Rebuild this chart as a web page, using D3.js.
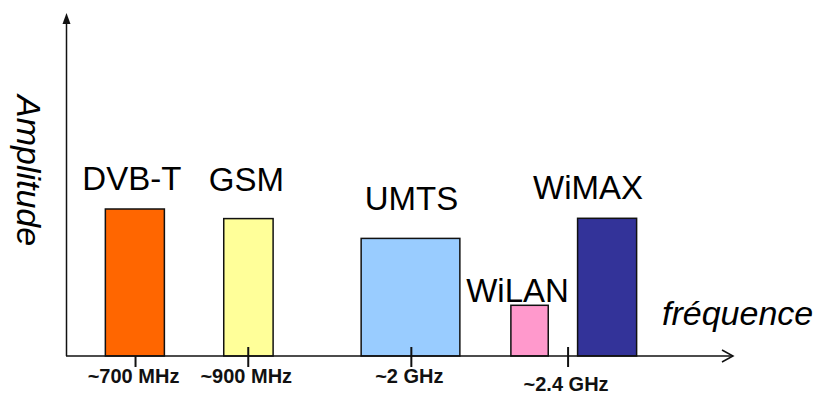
<!DOCTYPE html>
<html>
<head>
<meta charset="utf-8">
<script src="https://cdn.jsdelivr.net/npm/d3@7"></script>
<style>
  html, body { margin: 0; padding: 0; background: #fff; }
  svg { display: block; font-family: "Liberation Sans", Arial, Helvetica, sans-serif; }
</style>
</head>
<body>
<svg id="chart" width="818" height="394"></svg>
<script>
// Frequency bands occupied by each radio service (schematic spectrum)
const services   = ["DVB-T", "GSM", "UMTS", "WiLAN", "WiMAX"];
const bandStart  = [1.18, 4.73, 8.85, 13.34, 15.34];   // position along the frequency axis
const bandEnd    = [2.95, 6.21, 11.81, 14.46, 17.11];
const amplitude  = [4.90, 4.58, 3.92, 1.69, 4.59];     // relative amplitude
const bandColors = ["#ff6600", "#ffff99", "#99ccff", "#ff99cc", "#333399"];

// Reference frequencies marked on the axis
const tickPositions = [2.07, 5.45, 10.34, 15.04];
const tickLabels    = ["~700 MHz", "~900 MHz", "~2 GHz", "~2.4 GHz"];

const svg = d3.select("#chart");

const x = d3.scaleLinear().domain([0, 20]).range([66, 733]);
const y = d3.scaleLinear().domain([0, 10]).range([356, 56]);

// Label placement tweaks (pixels) relative to the top centre of each bar
const labelNudge = {
  "DVB-T": [-3, 0],
  "GSM":   [-2, -9],
  "UMTS":  [1, -9],
  "WiLAN": [-12, 16],
  "WiMAX": [-19, 0]
};

const bands = services.map((name, i) => ({
  name, x0: bandStart[i], x1: bandEnd[i], amp: amplitude[i], color: bandColors[i]
}));

// Bars
svg.append("g")
  .selectAll("rect")
  .data(bands)
  .join("rect")
  .attr("x", d => x(d.x0))
  .attr("y", d => y(d.amp))
  .attr("width", d => x(d.x1) - x(d.x0))
  .attr("height", d => y(0) - y(d.amp))
  .attr("fill", d => d.color)
  .attr("stroke", "#111")
  .attr("stroke-width", 1.5);

// Service names
svg.append("g")
  .selectAll("text")
  .data(bands)
  .join("text")
  .attr("x", d => (x(d.x0) + x(d.x1)) / 2 + labelNudge[d.name][0])
  .attr("y", d => y(d.amp) - 19 + labelNudge[d.name][1])
  .attr("text-anchor", "middle")
  .attr("font-size", 33)
  .attr("fill", "#000")
  .text(d => d.name);

// Frequency axis with tick marks and labels
const xAxis = d3.axisBottom(x)
  .tickValues(tickPositions)
  .tickFormat((d, i) => tickLabels[i])
  .tickSizeInner(11)
  .tickSizeOuter(0);

const axisG = svg.append("g")
  .attr("transform", `translate(0,${y(0)})`)
  .call(xAxis);

axisG.select(".domain").remove();
axisG.selectAll(".tick line")
  .attr("stroke", "#111")
  .attr("stroke-width", 2)
  // the 700 MHz mark sits under the DVB-T bar; the others cross the axis
  .attr("y1", (d, i) => i === 0 ? 0 : -9);
axisG.selectAll(".tick text")
  .attr("fill", "#111")
  .attr("font-size", 20)
  .attr("font-weight", "bold")
  .attr("font-family", "'Liberation Sans', Arial, Helvetica, sans-serif")
  .attr("dy", null)
  .attr("x", -2)
  .attr("y", (d, i) => i === tickPositions.length - 1 ? 35 : 27);

// Axis lines
const ax = svg.append("g").attr("stroke", "#111").attr("stroke-width", 1.5).attr("fill", "none");
ax.append("line")
  .attr("x1", x(0)).attr("x2", x(20))
  .attr("y1", y(0)).attr("y2", y(0));
ax.append("polyline")
  .attr("points", `${x(20) - 11},${y(0) - 6} ${x(20)},${y(0)} ${x(20) - 11},${y(0) + 6}`);
ax.append("line")
  .attr("x1", x(0) + 0.5).attr("x2", x(0) + 0.5)
  .attr("y1", y(0)).attr("y2", 22);
svg.append("path")
  .attr("d", `M${x(0) + 0.5},13 L${x(0) + 4.5},24 L${x(0) - 3.5},24 Z`)
  .attr("fill", "#111");

// Axis titles
svg.append("text")
  .attr("transform", "translate(17,95) rotate(90)")
  .attr("font-size", 34)
  .attr("font-style", "italic")
  .attr("fill", "#000")
  .text("Amplitude");

svg.append("text")
  .attr("x", 662)
  .attr("y", 325)
  .attr("font-size", 34)
  .attr("font-style", "italic")
  .attr("fill", "#000")
  .text("fréquence");
</script>
</body>
</html>
